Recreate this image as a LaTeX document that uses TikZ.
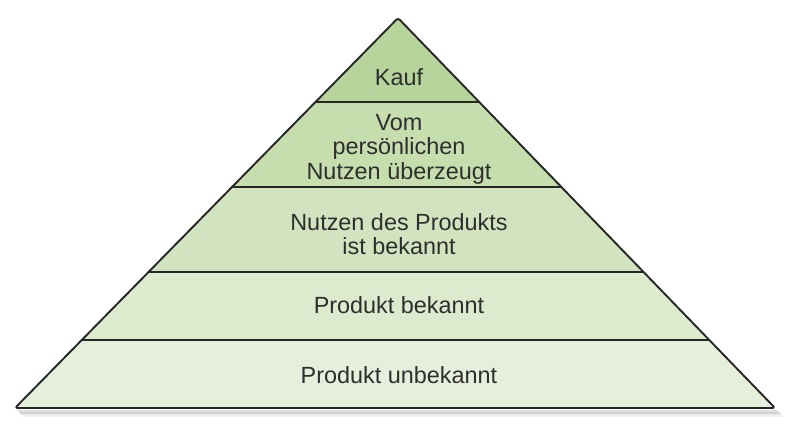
\documentclass[tikz,border=0pt]{standalone}
\usepackage{fontspec}
\setmainfont{Liberation Sans}
\usetikzlibrary{calc}
\definecolor{lay1}{HTML}{B7D49C}
\definecolor{lay2}{HTML}{C6DDAE}
\definecolor{lay3}{HTML}{D2E4BF}
\definecolor{lay4}{HTML}{DCEACE}
\definecolor{lay5}{HTML}{E6EFDC}
\definecolor{txt}{HTML}{2E2E2E}
\tikzset{
  lbl/.style={align=center, text=txt, font=\fontsize{23.5}{24.5}\selectfont, inner sep=0pt},
  edge/.style={line width=1.9pt, black!85, line join=round, rounded corners=2.5bp},
  sep/.style={line width=1.7pt, black!85}
}
\begin{document}
\begin{tikzpicture}[x=1bp,y=-1bp]
\useasboundingbox (0,0) rectangle (800,434);
\coordinate (A) at (398,18);
\coordinate (L) at (15,408);
\coordinate (R) at (775,408);
\coordinate (l1) at ($(A)!0.2154!(L)$); \coordinate (r1) at ($(A)!0.2154!(R)$);
\coordinate (l2) at ($(A)!0.4333!(L)$); \coordinate (r2) at ($(A)!0.4333!(R)$);
\coordinate (l3) at ($(A)!0.6513!(L)$); \coordinate (r3) at ($(A)!0.6513!(R)$);
\coordinate (l4) at ($(A)!0.8256!(L)$); \coordinate (r4) at ($(A)!0.8256!(R)$);
% shadow
\fill[black, opacity=0.12] (17,410) -- (777,410) -- (781,414) -- (21,414) -- cycle;
\fill[black, opacity=0.06] (19,412) -- (779,412) -- (784,417) -- (24,417) -- cycle;
% layers
\fill[lay1] (A) -- (l1) -- (r1) -- cycle;
\fill[lay2] (l1) -- (l2) -- (r2) -- (r1) -- cycle;
\fill[lay3] (l2) -- (l3) -- (r3) -- (r2) -- cycle;
\fill[lay4] (l3) -- (l4) -- (r4) -- (r3) -- cycle;
\fill[lay5] (l4) -- (L) -- (R) -- (r4) -- cycle;
\draw[sep] (l1) -- (r1);
\draw[sep] (l2) -- (r2);
\draw[sep] (l3) -- (r3);
\draw[sep] (l4) -- (r4);
\draw[edge] (A) -- (L) -- (R) -- cycle;
% labels
\node[lbl] (t1) at (399,77) {Kauf};
\node[lbl] (t2) at (399,149) {Vom\\persönlichen\\Nutzen überzeugt};
\node[lbl] (t3) at (399,234) {Nutzen des Produkts\\ist bekannt};
\node[lbl] (t4) at (399,305) {Produkt bekannt};
\node[lbl] (t5) at (399,375) {Produkt unbekannt};
\end{tikzpicture}
\end{document}
